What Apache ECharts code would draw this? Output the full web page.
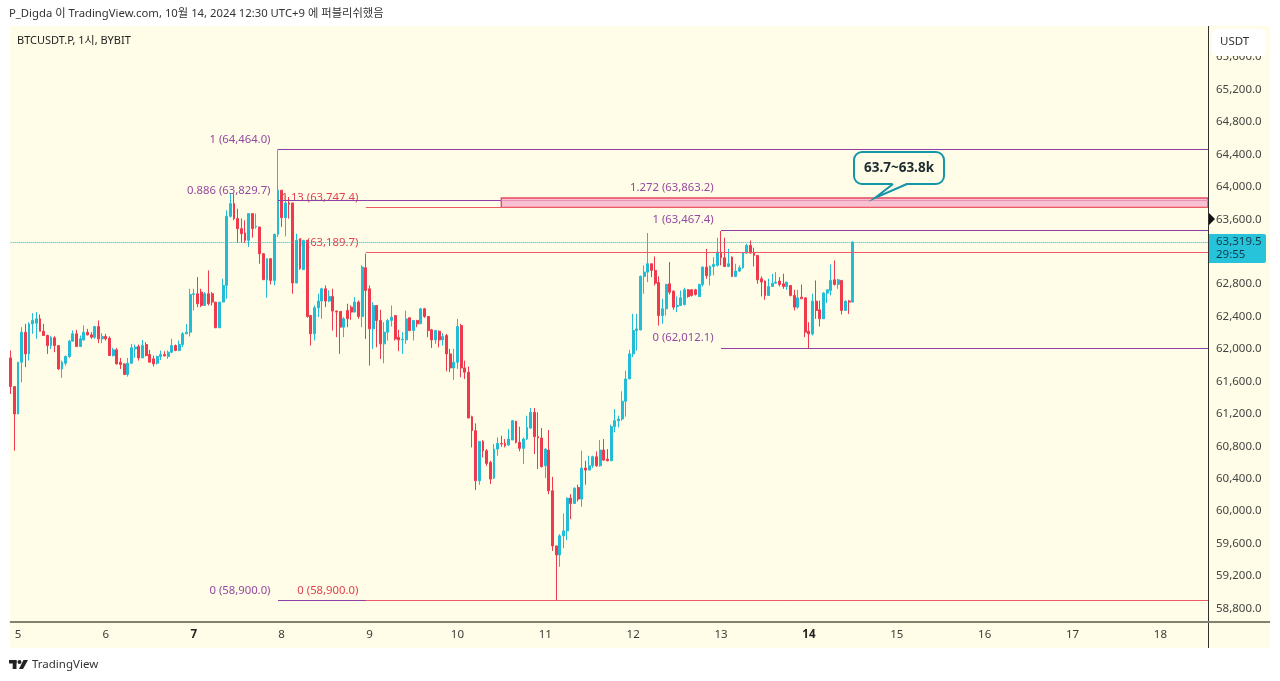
<!DOCTYPE html>
<html><head><meta charset="utf-8">
<script src="https://cdn.jsdelivr.net/npm/echarts@6/dist/echarts.min.js"></script>
<style>html,body{margin:0;padding:0;background:#fff}#c{width:1280px;height:681px}</style>
</head><body><div id="c"></div>
<script>
const opens=[61891,61537,61199,61838,62208,61940,62311,62319,62373,62220,
62167,62043,62138,62043,61755,61825,61908,62097,62188,62031,
62113,62208,62175,62146,62278,62126,62155,62134,61920,61990,
61838,61817,61685,61825,62002,62031,61891,62056,61932,61879,
61825,61908,61932,61908,61961,62043,61982,62056,62188,62208,
62674,62682,62703,62538,62682,62682,62579,62262,62579,62785,
63638,63794,63609,63485,63432,63341,63671,63506,63506,63176,
62855,63115,62847,63415,63959,63621,63802,63802,62814,63349,
62979,63341,62415,62188,62509,62592,62744,62592,62649,62468,
62464,62270,62476,62517,62456,62579,62402,63003,62743,62249,
62537,62352,62064,62208,62352,62414,62146,62113,62113,62385,
62228,62352,62311,62496,62401,62237,62113,62220,62113,62167,
61940,61767,61837,62290,61767,61714,61166,60993,60375,60861,
60746,60602,60408,60766,60836,60836,60816,60878,61108,60849,
60775,60890,61026,61219,60919,60902,60560,60754,60252,59572,
59461,59696,59757,60161,60095,60293,60149,60532,60507,60560,
60672,60560,60754,60643,60622,61042,61116,61137,61355,61631,
61940,62228,62237,62896,62949,63052,62970,62821,62414,62496,
62805,62714,62525,62537,62550,62731,62731,62731,62648,62797,
63011,62904,63019,63032,63196,63126,63019,63134,62896,62962,
63003,63184,63279,63184,63155,62867,62838,62661,62772,62813,
62838,62805,62772,62784,62661,62517,62640,62632,62220,62187,
62591,62484,62373,62690,62723,62854,62797,62846,62476,62591,62579];
const closes=[61537,61199,61838,62208,61940,62311,62352,62373,62220,62167,
62043,62146,62043,61755,61838,61908,62097,62188,62031,62126,
62208,62175,62146,62278,62126,62155,62126,61920,61990,61817,
61809,61685,61825,62015,62023,61891,62043,61920,61838,61817,
61908,61932,61916,61961,62043,61982,62056,62188,62208,62673,
62682,62559,62538,62682,62559,62579,62262,62579,62785,63638,
63794,63609,63485,63423,63341,63671,63485,63514,63176,62855,
63115,62847,63415,63959,63621,63802,63786,62814,63341,62991,
63341,62402,62188,62509,62592,62744,62592,62649,62468,62456,
62270,62373,62373,62456,62579,62402,63012,62723,62249,62537,
62352,62064,62208,62352,62393,62125,62113,62121,62372,62228,
62352,62311,62496,62401,62228,62113,62228,62113,62154,61940,
61767,61837,62278,61767,61714,61149,60993,60375,60861,60746,
60589,60396,60766,60836,60828,60808,60890,61116,60849,60775,
60890,61034,61219,60919,60902,60548,60766,60252,59572,59461,
59696,59757,60161,60095,60284,60149,60532,60507,60560,60672,
60560,60754,60630,60622,61042,61116,61137,61355,61631,61940,
62228,62249,62896,62949,63052,62970,62813,62414,62496,62797,
62702,62517,62537,62632,62731,62648,62661,62673,62797,63011,
62904,63019,63044,63196,63126,63019,63052,62896,62962,63003,
63184,63279,63184,63155,62854,62826,62661,62772,62813,62826,
62797,62772,62826,62661,62517,62632,62620,62208,62187,62591,
62476,62373,62690,62731,62846,62797,62854,62476,62591,62579,63319.5];
const lows=[61446,60746,61199,61590,61776,61858,62188,62126,62220,62167,
61940,62002,61961,61743,61644,61796,61891,62097,62031,62031,
62105,62167,62126,62126,62072,62072,62105,61920,61908,61809,
61755,61685,61660,61817,61891,61858,61891,61908,61838,61784,
61809,61866,61908,61879,61949,61973,61973,62023,62188,62155,
62476,62517,62517,62530,62538,62538,62262,62262,62579,62620,
63621,63588,63308,63308,63308,63259,63374,63485,63053,62855,
62633,62797,62785,63382,63506,63390,63609,62682,62814,62979,
62979,62386,62044,62106,62394,62373,62517,62579,62229,62147,
61941,62147,62270,62361,62456,62373,62270,62125,61796,62002,
62022,61878,61825,62105,62278,62105,61973,61940,62064,62220,
62105,62269,62311,62385,62146,62014,62064,62022,62043,61726,
61714,61619,61755,61652,61631,61149,60787,60260,60326,60663,
60560,60334,60396,60684,60795,60787,60808,60878,60836,60738,
60581,60878,61013,60705,60519,60540,60408,60210,59510,58900,
59313,59543,59642,59901,60095,60120,60054,60326,60507,60532,
60548,60548,60622,60614,60622,60972,61034,61116,61166,61631,
61900,61981,62228,62682,62826,62887,62784,62290,62311,62414,
62673,62484,62455,62537,62537,62632,62648,62660,62640,62772,
62867,62784,62908,63019,63032,63011,63011,62887,62887,62949,
62990,63176,63176,63019,62805,62649,62607,62661,62772,62805,
62772,62743,62731,62649,62476,62496,62620,62146,62012,62167,
62373,62278,62373,62566,62661,62784,62743,62426,62476,62434,62579];
const highs=[61982,61537,61838,62270,62311,62332,62443,62455,62426,62311,
62179,62159,62159,62043,61858,61920,62113,62229,62237,62167,
62291,62249,62208,62278,62352,62196,62188,62155,62015,62015,
61891,61825,61891,62064,62056,62056,62113,62085,61990,61920,
61920,61982,61973,61982,62126,62056,62105,62208,62311,62743,
62744,62888,62744,62703,62970,62703,62579,62579,62867,63712,
63918,63918,63732,63609,63588,63671,63671,63671,63506,63184,
63115,63115,63423,64464,63959,63897,63876,63802,63423,63362,
63341,63341,62415,62538,62682,62756,62785,62724,62744,62476,
62464,62394,62559,62538,62641,62600,63032,63176,62784,62578,
62537,62484,62331,62372,62537,62414,62237,62208,62475,62393,
62360,62360,62508,62508,62401,62249,62237,62228,62195,62187,
62002,62002,62372,62311,61858,61784,61178,61083,60861,60877,
60766,60622,60828,60911,60931,60890,61013,61124,61116,61042,
60911,61178,61273,61273,61219,61026,60775,61001,60424,59572,
59716,59971,60169,60210,60293,60326,60746,60622,60684,60684,
60737,60877,60890,60766,61067,61260,61178,61479,61734,61990,
62434,62434,62908,63032,63431,63052,63143,62896,62620,62805,
63073,62723,62648,62723,62756,62739,62739,62743,62805,63019,
63237,63032,63134,63373,63456,63373,63237,63143,63052,63032,
63196,63299,63340,63250,63155,62896,62846,62867,62929,62949,
62887,62929,62826,62784,62731,62731,62797,62632,62331,62682,
62846,62599,62702,62731,63044,63093,62867,62854,62599,62607,63330];

const yTicks=[58800,59200,59600,60000,60400,60800,61200,61600,62000,62400,62800,63200,63600,64000,64400,64800,65200,65600];
const dayLabels=['5','6','7','8','9','10','11','12','13','14','15','16','17','18'];
const boldDays=['7','14'];
const lastPrice=63319.5;
const priceTag='63,319.5';
const countdown='29:55';

/* Fibonacci drawings: label text, price, start candle index, colour group */
const purpleFibText=['1 (64,464.0)','0.886 (63,829.7)','0 (58,900.0)','1 (63,467.4)','0 (62,012.1)','1.272 (63,863.2)'];
const purpleFibPrice=[64464,63829.7,58900,63467.4,62012.1,63863.2];
const purpleFibStart=[73,73,73,194,194,194];
const redFibText=['1.13 (63,747.4)','1 (63,189.7)','0 (58,900.0)'];
const redFibPrice=[63747.4,63189.7,58900];
const redFibStart=[97,97,97];
const zoneTop=63863.2, zoneBottom=63747.4, zoneMid=63829.7, zoneStart=134;

const COUNT=328, LAST=COUNT-1, C_UP='#22bcd6', C_DN='#ef3a4e', PURPLE='#8f3fa6', RED='#ee5a66', LABEL_PURPLE='#93479f', LABEL_RED='#e0404f';
const FONT='"Noto Sans","Noto Sans CJK KR",sans-serif';

const cats=[];
for(let i=0;i<COUNT;i++){const k=i-2;cats.push(k>=0&&k%24===0&&dayLabels[k/24]?dayLabels[k/24]:'');}
const candles=opens.map((o,i)=>[o,closes[i],lows[i],highs[i]]);
const seg=(s,e,p,c,t)=>[{coord:[s,p],lineStyle:{color:c,width:1,type:t||'solid'}},{coord:[e,p]}];
const lines=[
  seg(0,LAST,lastPrice,C_UP,'dotted'),
  seg(73,LAST,64464,PURPLE),
  seg(73,zoneStart,zoneMid,PURPLE),
  seg(zoneStart,LAST,zoneMid,'#e88fb4'),
  seg(73,LAST,58900,PURPLE),
  seg(194,LAST,63467.4,PURPLE),
  seg(194,LAST,62012.1,PURPLE),
  ...redFibPrice.map((p,i)=>seg(redFibStart[i],LAST,p,RED))
];
const labels=[
  ...purpleFibText.map((t,i)=>({value:[purpleFibStart[i],purpleFibPrice[i],t],label:{color:LABEL_PURPLE}})),
  ...redFibText.map((t,i)=>({value:[redFibStart[i],redFibPrice[i],t],label:{color:LABEL_RED}}))
];

const chart=echarts.init(document.getElementById('c'),null,{renderer:'canvas'});
chart.setOption({
  animation:false,
  backgroundColor:'#ffffff',
  textStyle:{fontFamily:FONT},
  grid:{left:10.7,right:72,top:26,bottom:59},
  xAxis:{type:'category',data:cats,boundaryGap:false,
    axisLine:{lineStyle:{color:'#80826f',width:2}},axisTick:{show:false},splitLine:{show:false},
    axisLabel:{interval:(i,v)=>v!=='',margin:7,color:'#3a3a3a',fontSize:11.5,fontFamily:FONT,
      formatter:v=>boldDays.includes(v)?'{b|'+v+'}':v,
      rich:{b:{fontWeight:'bold',fontSize:11.5,color:'#222',fontFamily:FONT}}}},
  yAxis:{type:'value',position:'right',min:58633,max:65985,scale:true,
    axisLine:{show:false},axisTick:{show:false},splitLine:{show:false},
    axisLabel:{customValues:yTicks,margin:8,color:'#444',fontSize:11.5,fontFamily:FONT,
      formatter:v=>v.toLocaleString('en-US',{minimumFractionDigits:1,maximumFractionDigits:1})}},
  series:[
    {type:'scatter',z:1,symbolSize:1,silent:true,itemStyle:{color:'transparent',opacity:1},data:labels,clip:false,
      label:{show:true,opacity:1,position:'left',distance:7,offset:[0,-10],fontSize:11.3,fontFamily:FONT,formatter:p=>p.value[2]}},
    {type:'candlestick',z:3,silent:true,clip:false,barWidth:2.4,data:candles,
      itemStyle:{color:C_UP,color0:C_DN,borderColor:C_UP,borderColor0:C_DN,borderWidth:1},
      markLine:{silent:true,symbol:['none','none'],label:{show:false},animation:false,z:5,data:lines},
      markArea:{silent:true,z:4,animation:false,itemStyle:{color:'#f9c0d2',borderColor:'#e8485f',borderWidth:1.4},
        data:[[{coord:[zoneStart,zoneTop]},{coord:[LAST,zoneBottom]}]]}}
  ],
  graphic:[
    {type:'rect',z:-10,silent:true,shape:{x:10,y:26,width:1260,height:622},style:{fill:'#fffde7'}},
    {type:'line',z:20,silent:true,shape:{x1:1208.5,y1:26,x2:1208.5,y2:648},style:{stroke:'#2f3030',lineWidth:1}},
    {type:'line',z:20,silent:true,shape:{x1:1208,y1:622,x2:1270,y2:622},style:{stroke:'#80826f',lineWidth:2}},
    {type:'text',z:30,silent:true,style:{x:9,y:14,text:'P_Digda 이 TradingView.com, 10월 14, 2024 12:30 UTC+9 에 퍼블리쉬했음',fill:'#333',font:'11.3px '+FONT,textVerticalAlign:'middle'}},
    {type:'text',z:30,silent:true,style:{x:17,y:41,text:'BTCUSDT.P, 1시, BYBIT',fill:'#222',font:'11px '+FONT,textVerticalAlign:'middle'}},
    {type:'rect',z:40,silent:true,shape:{x:1212,y:29,width:54,height:27,r:5},style:{fill:'#ffffff'}},
    {type:'text',z:41,silent:true,style:{x:1220,y:41.5,text:'USDT',fill:'#333',font:'11.5px '+FONT,textVerticalAlign:'middle'}},
    {type:'rect',z:40,silent:true,shape:{x:1209,y:234,width:57,height:29,r:[0,2,2,0]},style:{fill:'#26c3da'}},
    {type:'text',z:41,silent:true,style:{x:1216,y:242,text:priceTag,fill:'#123c46',font:'11.5px '+FONT,textVerticalAlign:'middle'}},
    {type:'text',z:41,silent:true,style:{x:1216,y:255,text:countdown,fill:'#123c46',font:'11.5px '+FONT,textVerticalAlign:'middle'}},
    {type:'polygon',z:41,silent:true,shape:{points:[[1209,213],[1215,219],[1209,225]]},style:{fill:'#111'}},
    {type:'rect',z:42,silent:true,shape:{x:854,y:152,width:90,height:32,r:8},style:{fill:'#fffde7',stroke:'#1595a8',lineWidth:2}},
    {type:'polygon',z:43,silent:true,shape:{points:[[893,183],[875,198],[907,183]]},style:{fill:'#fffde7'}},
    {type:'polyline',z:43,silent:true,shape:{points:[[893,184],[875,198],[907,184]]},style:{fill:'none',stroke:'#1595a8',lineWidth:2}},
    {type:'text',z:44,silent:true,style:{x:899,y:168,text:'63.7~63.8k',fill:'#1c2b30',font:'bold 13.5px '+FONT,textAlign:'center',textVerticalAlign:'middle'}},
    {type:'rect',z:30,silent:true,shape:{x:9,y:660,width:7.5,height:3.5},style:{fill:'#222'}},
    {type:'rect',z:30,silent:true,shape:{x:12.7,y:660,width:3.8,height:9},style:{fill:'#222'}},
    {type:'circle',z:30,silent:true,shape:{cx:19.5,cy:662,r:2},style:{fill:'#222'}},
    {type:'polygon',z:30,silent:true,shape:{points:[[23.5,660],[28,660],[23,669],[19,669]]},style:{fill:'#222'}},
    {type:'text',z:30,silent:true,style:{x:32,y:664.5,text:'TradingView',fill:'#333',font:'11.5px '+FONT,textVerticalAlign:'middle'}}
  ]
});
</script></body></html>
